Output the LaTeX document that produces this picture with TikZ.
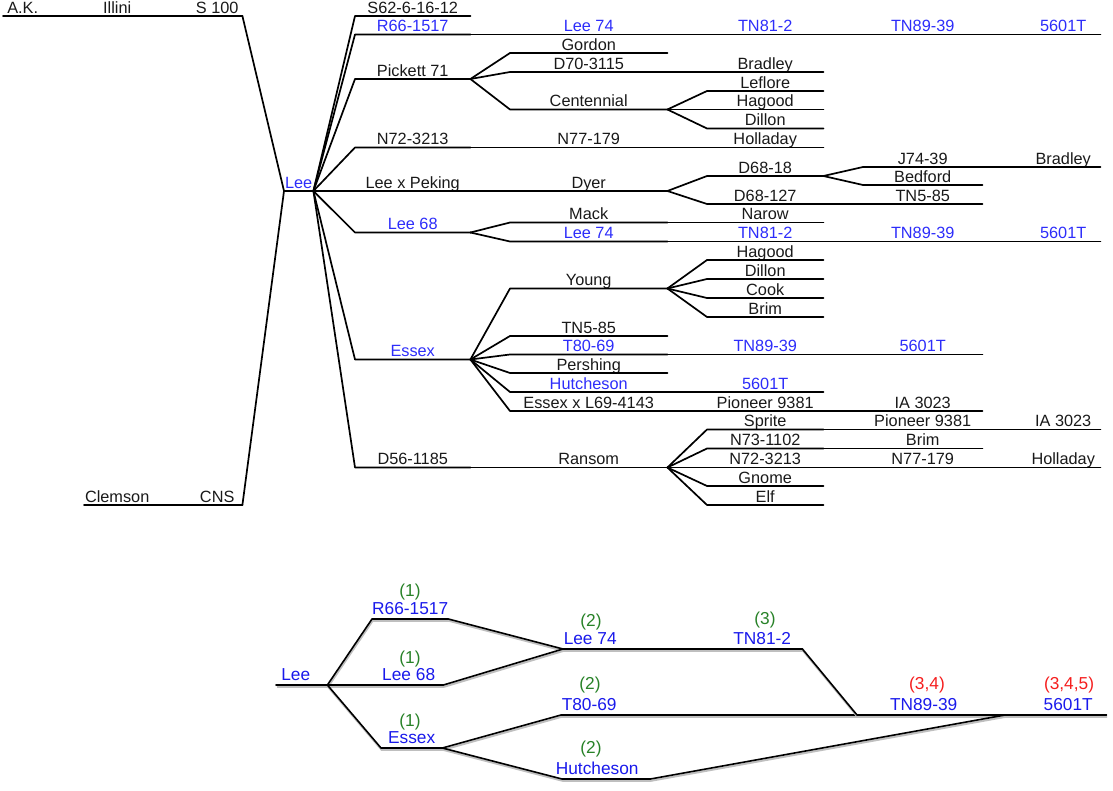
\documentclass[tikz,border=0pt]{standalone}
\usepackage{fontspec}
\setmainfont{Liberation Sans}
\usetikzlibrary{calc}
\definecolor{ink}{RGB}{25,25,25}
\definecolor{lnk}{RGB}{45,45,250}
\definecolor{blnk}{RGB}{25,25,235}
\definecolor{grn}{RGB}{40,130,40}
\definecolor{rd}{RGB}{245,30,30}
\begin{document}
\begin{tikzpicture}[x=1pt,y=-1pt,
  cell/.style={anchor=south west, inner xsep=0pt, inner ysep=2.6pt, text depth=0pt,
    minimum height=0pt, minimum width=#1, font=\fontsize{16.3}{18}\selectfont, text=ink},
  k1/.style={cell=115pt}, k2/.style={cell=157pt}, k3/.style={cell=116pt},
  k4/.style={cell=119pt}, k5/.style={cell=74pt},
  bl/.style={text=lnk},
  bcell/.style={anchor=south west, inner xsep=0pt, inner ysep=4pt, text depth=0pt,
    minimum height=0pt, minimum width=#1, font=\fontsize{17.3}{19}\selectfont, text=blnk},
  tshift/.style={execute at begin node={\hspace*{#1}}},
  par/.style={anchor=base, inner sep=0pt, font=\fontsize{17.3}{19}\selectfont},
  wire/.style={line width=1.7pt, line cap=round, line join=round},
  bwire/.style={line width=1.6pt, line cap=round, line join=round,
    preaction={draw=black!25, line width=2pt, transform canvas={xshift=0.6pt,yshift=-1.8pt}}}]
\useasboundingbox (0,0) rectangle (1113,791);

% ---------- top tree: roots ----------
\node[cell=39pt] (ak) at (3,16) {A.K.};
\node[cell=70pt] (illini) at (82,16) {Illini};
\node[cell=50pt] (s100) at (192,16) {S 100};
\node[cell=66pt] (clem) at (84,505) {Clemson};
\node[cell=50pt] (cns) at (192,505) {CNS};
\node[cell=29pt,bl] (lee) at (284,191) {Lee};

% ---------- column 1 ----------
\node[k1] (s62) at (355,16) {S62-6-16-12};
\node[k1,bl] (r66) at (355,34.5) {R66-1517};
\node[k1] (pick) at (355,79) {Pickett 71};
\node[k1] (n72) at (355,147.5) {N72-3213};
\node[k1] (lxp) at (355,191) {Lee x Peking};
\node[k1,bl] (lee68) at (355,232.5) {Lee 68};
\node[k1,bl] (essex) at (355,359.5) {Essex};
\node[k1] (d56) at (355,467.5) {D56-1185};

% ---------- column 2 ----------
\node[k2,bl] (r66b) at (510,34.5) {Lee 74};
\node[k2] (gordon) at (510,53) {Gordon};
\node[k2] (d70) at (510,72) {D70-3115};
\node[k2] (cent) at (510,109.5) {Centennial};
\node[k2] (n77) at (510,147.5) {N77-179};
\node[k2] (dyer) at (510,191) {Dyer};
\node[k2] (mack) at (510,222.5) {Mack};
\node[k2,bl] (lee74) at (510,241.5) {Lee 74};
\node[k2] (young) at (510,288.5) {Young};
\node[k2] (tn585) at (510,336) {TN5-85};
\node[k2,bl] (t8069) at (510,354.5) {T80-69};
\node[k2] (pershing) at (510,373) {Pershing};
\node[k2,bl] (hutch) at (510,392) {Hutcheson};
\node[k2] (exl) at (510,411) {Essex x L69-4143};
\node[k2] (ransom) at (510,467.5) {Ransom};

% ---------- column 3 ----------
\node[k3,bl] (r66c) at (707,34.5) {TN81-2};
\node[k3] (bradley1) at (707,72) {Bradley};
\node[k3] (leflore) at (707,91) {Leflore};
\node[k3] (hagood1) at (707,109.5) {Hagood};
\node[k3] (dillon1) at (707,128.5) {Dillon};
\node[k3] (holladay1) at (707,147.5) {Holladay};
\node[k3] (d6818) at (707,176) {D68-18};
\node[k3] (d68127) at (707,204) {D68-127};
\node[k3] (narow) at (707,222.5) {Narow};
\node[k3,bl] (lee74c) at (707,241.5) {TN81-2};
\node[k3] (hagood2) at (707,260) {Hagood};
\node[k3] (dillon2) at (707,279) {Dillon};
\node[k3] (cook) at (707,298) {Cook};
\node[k3] (brim1) at (707,317) {Brim};
\node[k3,bl] (t80c) at (707,354.5) {TN89-39};
\node[k3,bl] (hutchc) at (707,392) {5601T};
\node[k3] (exlc) at (707,411) {Pioneer 9381};
\node[k3] (sprite) at (707,429.5) {Sprite};
\node[k3] (n731102) at (707,448.5) {N73-1102};
\node[k3] (n72b) at (707,467.5) {N72-3213};
\node[k3] (gnome) at (707,486) {Gnome};
\node[k3] (elf) at (707,505) {Elf};

% ---------- column 4 ----------
\node[k4,bl] (r66d) at (863,34.5) {TN89-39};
\node[k4] (j7439) at (863,167) {J74-39};
\node[k4] (bedford) at (863,185) {Bedford};
\node[k4] (tn585b) at (863,204) {TN5-85};
\node[k4,bl] (lee74d) at (863,241.5) {TN89-39};
\node[k4,bl] (t80d) at (863,354.5) {5601T};
\node[k4] (exld) at (863,411) {IA 3023};
\node[k4] (spr4) at (863,429.5) {Pioneer 9381};
\node[k4] (brim2) at (863,448.5) {Brim};
\node[k4] (n77b) at (863,467.5) {N77-179};

% ---------- column 5 ----------
\node[k5,bl] (r66e) at (1026,34.5) {5601T};
\node[k5] (bradley2) at (1026,167) {Bradley};
\node[k5,bl] (lee74e) at (1026,241.5) {5601T};
\node[k5] (spr5) at (1026,429.5) {IA 3023};
\node[k5] (holl2) at (1026,467.5) {Holladay};

% ---------- top tree connectors ----------
\foreach \c in {ak, clem}
  \draw[wire] (\c.south west) -- (\c.south east);
\foreach \p/\c in {ak/illini, illini/s100, clem/cns, s100/lee, cns/lee,
  lee/s62, lee/r66, lee/pick, lee/n72, lee/lxp, lee/lee68, lee/essex, lee/d56,
  r66/r66b, r66b/r66c, r66c/r66d, r66d/r66e,
  pick/gordon, pick/d70, pick/cent, d70/bradley1, cent/leflore, cent/hagood1, cent/dillon1,
  n72/n77, n77/holladay1,
  lxp/dyer, dyer/d6818, dyer/d68127, d6818/j7439, d6818/bedford, j7439/bradley2, d68127/tn585b,
  lee68/mack, lee68/lee74, mack/narow, lee74/lee74c, lee74c/lee74d, lee74d/lee74e,
  essex/young, essex/tn585, essex/t8069, essex/pershing, essex/hutch, essex/exl,
  young/hagood2, young/dillon2, young/cook, young/brim1,
  t8069/t80c, t80c/t80d, hutch/hutchc, exl/exlc, exlc/exld,
  d56/ransom, ransom/sprite, ransom/n731102, ransom/n72b, ransom/gnome, ransom/elf,
  sprite/spr4, spr4/spr5, n731102/brim2, n72b/n77b, n77b/holl2}
  \draw[wire] (\p.south east) -- (\c.south west) -- (\c.south east);

% ---------- bottom tree ----------
\node[bcell=51pt, tshift=-12pt] (bLee) at (276,685) {Lee};
\node[bcell=74pt] (bR66) at (372,619) {R66-1517};
\node[bcell=69pt] (bLee68) at (374,685) {Lee 68};
\node[bcell=61pt] (bEssex) at (381,748) {Essex};
\node[bcell=54pt] (bLee74) at (563,649) {Lee 74};
\node[bcell=80pt] (bTN81) at (722,649) {TN81-2};
\node[bcell=56pt] (bT80) at (561,715) {T80-69};
\node[bcell=88pt, tshift=-18pt] (bHut) at (562,779) {Hutcheson};
\node[bcell=148pt, tshift=-15pt] (bTN89) at (857,715) {TN89-39};
\node[bcell=101pt, tshift=25pt] (b5601) at (1005,715) {5601T};

\draw[bwire] (bLee.south west) -- (bLee.south east);
\foreach \p/\c in {bLee/bR66, bLee/bLee68, bLee/bEssex, bR66/bLee74, bLee68/bLee74,
  bLee74/bTN81, bEssex/bT80, bEssex/bHut, bT80/bTN89, bTN81/bTN89, bTN89/b5601, bHut/b5601}
  \draw[bwire] (\p.south east) -- (\c.south west) -- (\c.south east);

\node[par, text=grn] (g1) at (410,596.5) {(1)};
\node[par, text=grn] (g2) at (410,663.5) {(1)};
\node[par, text=grn] (g3) at (410,726) {(1)};
\node[par, text=grn] (g4) at (591,626.5) {(2)};
\node[par, text=grn] (g5) at (590,689.5) {(2)};
\node[par, text=grn] (g6) at (591,753) {(2)};
\node[par, text=grn] (g7) at (765,624.5) {(3)};
\node[par, text=rd] (r1) at (927,689.5) {(3,4)};
\node[par, text=rd] (r2) at (1069,689.5) {(3,4,5)};
\end{tikzpicture}
\end{document}
